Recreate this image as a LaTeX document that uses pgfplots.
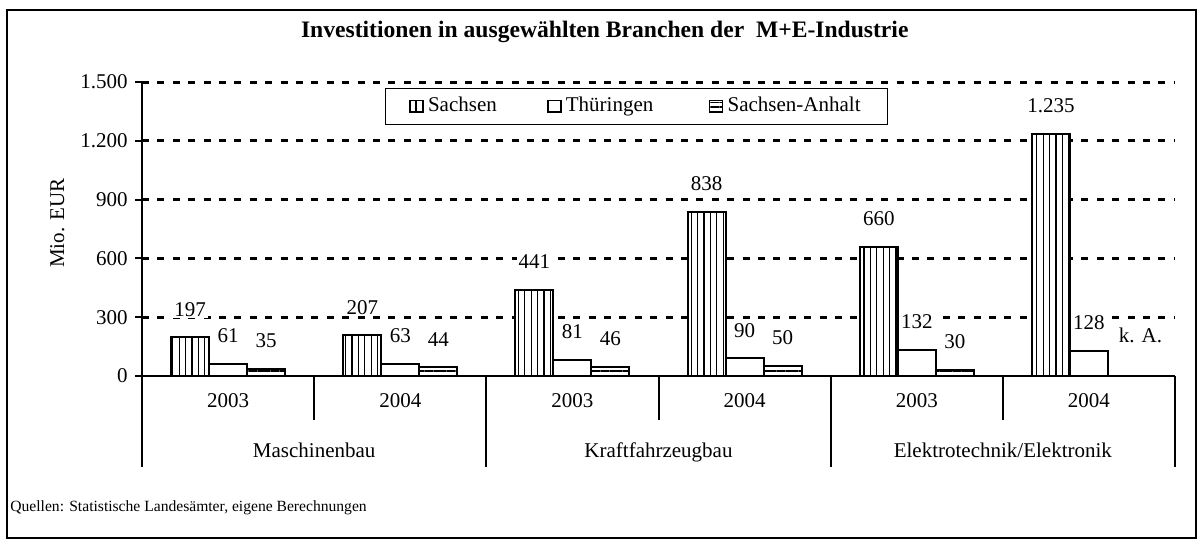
\documentclass[border=0pt]{standalone}
\usepackage{fontspec}
\setmainfont{Liberation Serif}
\usepackage{pgfplots}
\pgfplotsset{compat=1.18}
\usetikzlibrary{patterns.meta}
\newlength\px \setlength\px{0.5pt}
\newcommand\myfont{\fontsize{10.5}{12.6}\selectfont}
\pgfplotsset{/pgf/number format/.cd, 1000 sep={.}, assume math mode=true}

\begin{document}
\myfont
\begin{tikzpicture}
\useasboundingbox (0,0) rectangle (1204\px,547\px);
\draw[line width=1pt] (7\px,9\px) rectangle (1196\px,537\px);
\begin{axis}[
    at={(142\px,171\px)}, anchor=south west,
    scale only axis, width=1033\px, height=294\px,
    ybar=0pt, bar width=38\px,
    xmin=-0.5, xmax=5.5, ymin=0, ymax=1500,
    ytick={300,600,...,1500},
    extra y ticks={0}, extra y tick style={grid=none},
    xtick={0,...,5}, xticklabels={2003,2004,2003,2004,2003,2004},
    x tick style={draw=none},
    xticklabel style={anchor=center, yshift=-9pt},
    axis lines*=left, axis line style={line width=1pt},
    y tick style={line width=1pt, black}, tick align=outside, major tick length=7\px,
    ymajorgrids, grid style={dash pattern=on 3.5pt off 4.2pt, line width=1.5pt, black},
    tick label style={font=\myfont},
    clip=false,
    title={Investitionen in ausgewählten Branchen der\ \ M+E-Industrie},
    title style={at={(axis description cs:0.448,1.130)}, anchor=center, yshift=0pt,
        font=\fontsize{11.8}{14}\selectfont\bfseries},
    ylabel={Mio. EUR},
    ylabel style={at={(axis description cs:-0.082,0.52)}, anchor=center, font=\myfont},
    nodes near coords,
    every node near coord/.append style={fill=white, draw=none, text=black, inner sep=1pt, yshift=9pt, font=\myfont},
    legend columns=3,
    legend style={at={(axis description cs:0.235,0.98)}, anchor=north west, draw=black, line width=0.5pt,
        font=\myfont, inner xsep=12pt, inner ysep=3pt,
        nodes={inner sep=1.5pt, anchor=west}},
    legend image code/.code={\draw[#1, line width=0.8pt] (0pt,-2.8pt) rectangle (6.5pt,2.8pt); \path (7pt,0pt);},
]
\addplot[draw=black, line width=1pt, fill=white,
    postaction={pattern={Lines[angle=90,distance=3.2pt,line width=0.6pt]}}]
    coordinates {(0,197) (1,207) (2,441) (3,838) (4,660) (5,1235)};
\addplot[draw=black, line width=1pt, fill=white]
    coordinates {(0,61) (1,63) (2,81) (3,90) (4,132) (5,128)};
\addplot[draw=black, line width=1pt, fill=white,
    postaction={pattern={Lines[angle=0,distance=2.2pt,line width=0.6pt]}}]
    coordinates {(0,35) (1,44) (2,46) (3,50) (4,30)};
\legend{\makebox[58pt][l]{Sachsen}, \makebox[70pt][l]{Thüringen}, Sachsen-Anhalt}
\node[yshift=20.5pt] at (axis cs:5.3,0) {k. A.};
% Gruppentrenner unter der x-Achse
\pgfplotsinvokeforeach{-0.5,1.5,3.5,5.5}{
    \draw[line width=1pt] (axis cs:#1,0) -- ([yshift=-45.5pt]axis cs:#1,0);
}
\pgfplotsinvokeforeach{0.5,2.5,4.5}{
    \draw[line width=1pt] (axis cs:#1,0) -- ([yshift=-22pt]axis cs:#1,0);
}
\node[text height=0.7em, text depth=0.22em] at ([yshift=-38pt]axis cs:0.5,0) {Maschinenbau};
\node[text height=0.7em, text depth=0.22em] at ([yshift=-38pt]axis cs:2.5,0) {Kraftfahrzeugbau};
\node[text height=0.7em, text depth=0.22em] at ([yshift=-38pt]axis cs:4.5,0) {Elektrotechnik/Elektronik};
\end{axis}
\node[anchor=west, inner sep=0pt, font=\fontsize{7.8}{9.4}\selectfont] at (10\px,39\px)
    {Quellen: Statistische Landesämter, eigene Berechnungen};
\end{tikzpicture}
\end{document}
